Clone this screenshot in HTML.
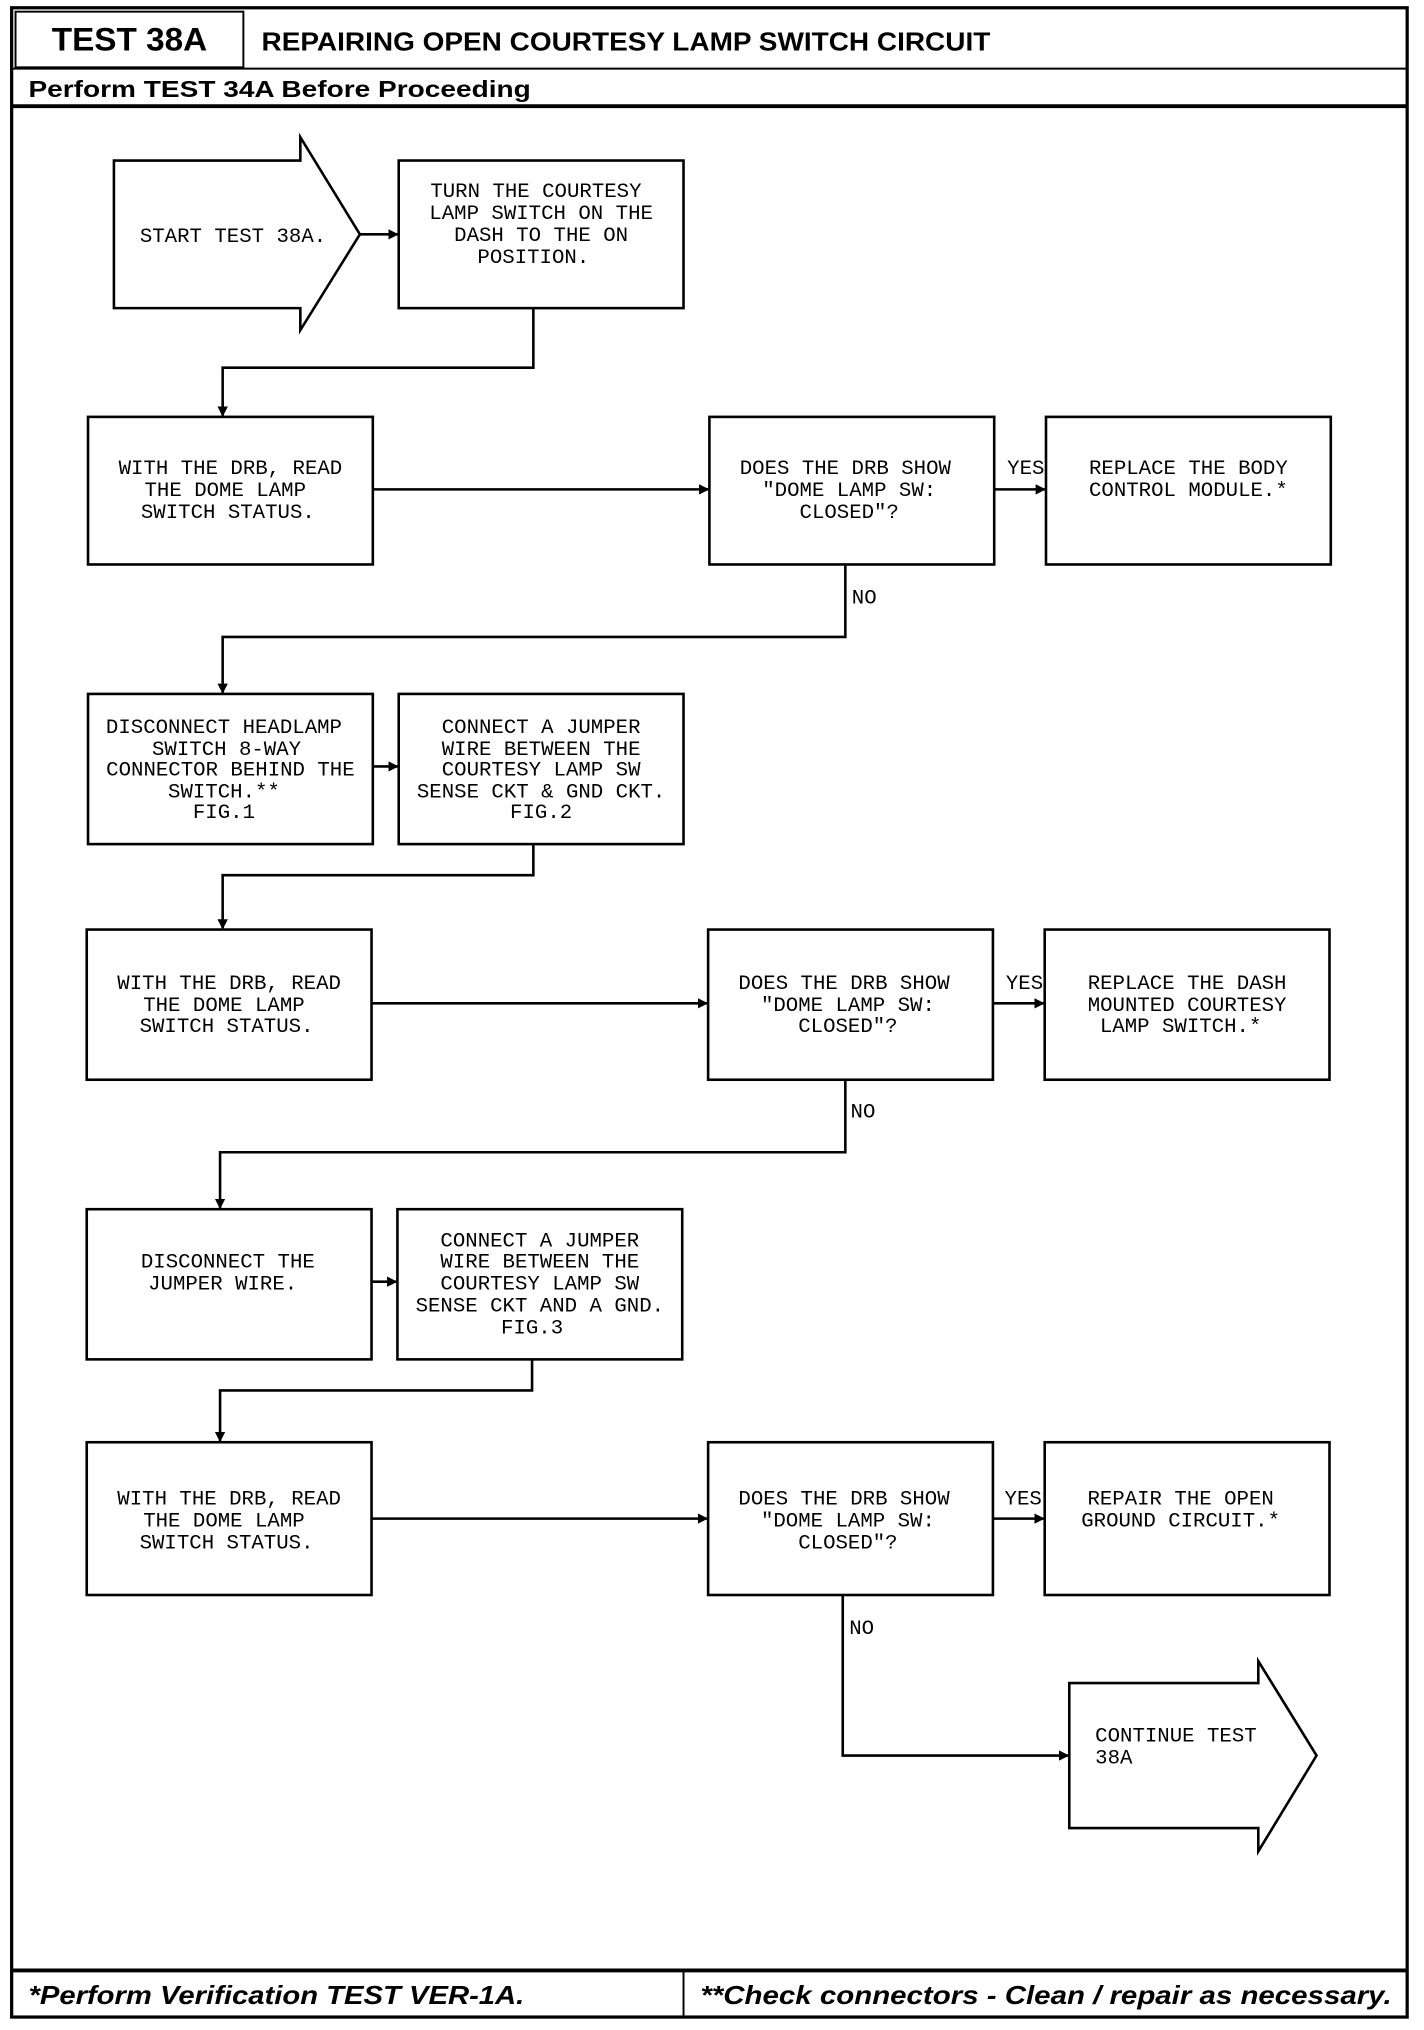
<!DOCTYPE html>
<html><head><meta charset="utf-8"><style>
html,body{margin:0;padding:0;background:#fff;}
svg{display:block;}
.t{font-family:"Liberation Mono",monospace;font-size:16px;fill:#000;}
.h{font-family:"Liberation Sans",sans-serif;font-weight:bold;fill:#000;}
</style></head><body>
<svg width="1424" height="2030" viewBox="0 0 1100 1568" preserveAspectRatio="none" xmlns="http://www.w3.org/2000/svg">
<defs><marker id="a" markerWidth="8" markerHeight="8" refX="7" refY="4" orient="auto" markerUnits="userSpaceOnUse"><path d="M0,0 L8,4 L0,8 z" fill="#000"/></marker></defs>
<g fill="none" stroke="#000">
<rect x="9" y="6" width="1078" height="1552" stroke-width="2.5"/>
<rect x="12" y="9" width="176" height="43" stroke-width="1.5"/>
<line x1="9" y1="53" x2="1087" y2="53" stroke-width="1.5"/>
<line x1="9" y1="82" x2="1087" y2="82" stroke-width="3"/>
<line x1="9" y1="1522" x2="1087" y2="1522" stroke-width="3"/>
<line x1="528" y1="1522" x2="528" y2="1558" stroke-width="1.5"/>
</g>
<text class="h" x="40" y="39" font-size="25" textLength="120" lengthAdjust="spacingAndGlyphs">TEST 38A</text>
<text class="h" x="202" y="39" font-size="20" textLength="563" lengthAdjust="spacingAndGlyphs">REPAIRING OPEN COURTESY LAMP SWITCH CIRCUIT</text>
<text class="h" x="22" y="75" font-size="18" textLength="388" lengthAdjust="spacingAndGlyphs">Perform TEST 34A Before Proceeding</text>
<text class="h" x="22" y="1548" font-size="20" font-style="italic" textLength="383" lengthAdjust="spacingAndGlyphs">*Perform Verification TEST VER-1A.</text>
<text class="h" x="541" y="1548" font-size="20" font-style="italic" textLength="534" lengthAdjust="spacingAndGlyphs">**Check connectors - Clean / repair as necessary.</text>

<g fill="none" stroke="#000" stroke-width="2">
<polygon points="88,124 232,124 232,106 278,181 232,255 232,238 88,238"/>
<rect x="308" y="124" width="220" height="114"/>
<rect x="68" y="322" width="220" height="114"/>
<rect x="548" y="322" width="220" height="114"/>
<rect x="808" y="322" width="220" height="114"/>
<rect x="68" y="536" width="220" height="116"/>
<rect x="308" y="536" width="220" height="116"/>
<rect x="67" y="718" width="220" height="116"/>
<rect x="547" y="718" width="220" height="116"/>
<rect x="807" y="718" width="220" height="116"/>
<rect x="67" y="934" width="220" height="116"/>
<rect x="307" y="934" width="220" height="116"/>
<rect x="67" y="1114" width="220" height="118"/>
<rect x="547" y="1114" width="220" height="118"/>
<rect x="807" y="1114" width="220" height="118"/>
<polygon points="826,1300 972,1300 972,1283 1017,1356 972,1430 972,1412 826,1412"/>
</g>
<g fill="none" stroke="#000" stroke-width="2" marker-end="url(#a)">
<line x1="278" y1="181" x2="307" y2="181"/>
<polyline points="412,238 412,284 172,284 172,321"/>
<line x1="288" y1="378" x2="547" y2="378"/>
<line x1="768" y1="378" x2="807" y2="378"/>
<polyline points="653,436 653,492 172,492 172,535"/>
<line x1="288" y1="592" x2="307" y2="592"/>
<polyline points="412,652 412,676 172,676 172,717"/>
<line x1="287" y1="775" x2="546" y2="775"/>
<line x1="767" y1="775" x2="806" y2="775"/>
<polyline points="653,834 653,890 170,890 170,933"/>
<line x1="287" y1="990" x2="306" y2="990"/>
<polyline points="411,1050 411,1074 170,1074 170,1113"/>
<line x1="287" y1="1173" x2="546" y2="1173"/>
<line x1="767" y1="1173" x2="806" y2="1173"/>
<polyline points="651,1232 651,1356 825,1356"/>
</g>
<g class="t" text-anchor="middle">
<text x="180" y="187">START TEST 38A.</text>
<text x="414" y="152">TURN THE COURTESY</text>
<text x="418" y="169">LAMP SWITCH ON THE</text>
<text x="418" y="186">DASH TO THE ON</text>
<text x="412" y="203">POSITION.</text>
<text x="178" y="366">WITH THE DRB, READ</text>
<text x="174" y="383">THE DOME LAMP</text>
<text x="176" y="400">SWITCH STATUS.</text>
<text x="653" y="366">DOES THE DRB SHOW</text>
<text x="656" y="383">"DOME LAMP SW:</text>
<text x="656" y="400">CLOSED"?</text>
<text x="918" y="366">REPLACE THE BODY</text>
<text x="918" y="383">CONTROL MODULE.*</text>
<text x="173" y="566">DISCONNECT HEADLAMP</text>
<text x="175" y="583">SWITCH 8-WAY</text>
<text x="178" y="599">CONNECTOR BEHIND THE</text>
<text x="173" y="616">SWITCH.**</text>
<text x="173" y="632">FIG.1</text>
<text x="418" y="566">CONNECT A JUMPER</text>
<text x="418" y="583">WIRE BETWEEN THE</text>
<text x="418" y="599">COURTESY LAMP SW</text>
<text x="418" y="616">SENSE CKT &amp; GND CKT.</text>
<text x="418" y="632">FIG.2</text>
<text x="177" y="764">WITH THE DRB, READ</text>
<text x="173" y="781">THE DOME LAMP</text>
<text x="175" y="797">SWITCH STATUS.</text>
<text x="652" y="764">DOES THE DRB SHOW</text>
<text x="655" y="781">"DOME LAMP SW:</text>
<text x="655" y="797">CLOSED"?</text>
<text x="917" y="764">REPLACE THE DASH</text>
<text x="917" y="781">MOUNTED COURTESY</text>
<text x="912" y="797">LAMP SWITCH.*</text>
<text x="176" y="979">DISCONNECT THE</text>
<text x="172" y="996">JUMPER WIRE.</text>
<text x="417" y="963">CONNECT A JUMPER</text>
<text x="417" y="979">WIRE BETWEEN THE</text>
<text x="417" y="996">COURTESY LAMP SW</text>
<text x="417" y="1013">SENSE CKT AND A GND.</text>
<text x="411" y="1030">FIG.3</text>
<text x="177" y="1162">WITH THE DRB, READ</text>
<text x="173" y="1179">THE DOME LAMP</text>
<text x="175" y="1196">SWITCH STATUS.</text>
<text x="652" y="1162">DOES THE DRB SHOW</text>
<text x="655" y="1179">"DOME LAMP SW:</text>
<text x="655" y="1196">CLOSED"?</text>
<text x="912" y="1162">REPAIR THE OPEN</text>
<text x="912" y="1179">GROUND CIRCUIT.*</text>
</g>
<g class="t">
<text x="846" y="1345">CONTINUE TEST</text>
<text x="846" y="1362">38A</text>
<text x="778" y="366">YES</text>
<text x="777" y="764">YES</text>
<text x="776" y="1162">YES</text>
<text x="658" y="466">NO</text>
<text x="657" y="863">NO</text>
<text x="656" y="1262">NO</text>
</g>
</svg>
</body></html>
